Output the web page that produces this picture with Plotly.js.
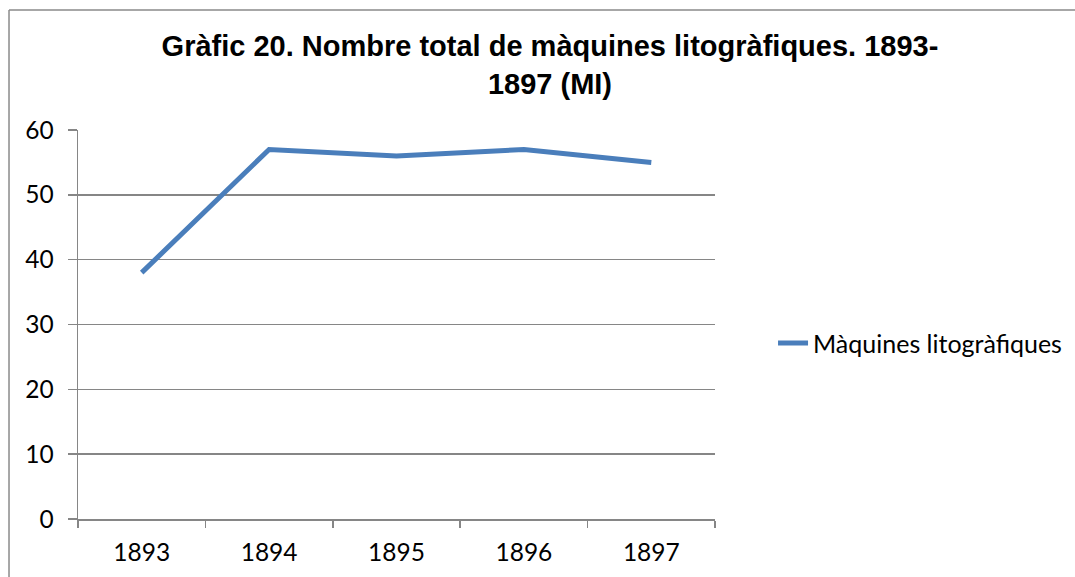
<!DOCTYPE html>
<html>
<head>
<meta charset="utf-8">
<script src="https://cdn.plot.ly/plotly-3.0.1.min.js"></script>
<style>
html,body{margin:0;padding:0;background:#fff;}
#chart{width:1075px;height:577px;}
</style>
</head>
<body>
<div id="chart"></div>
<script>
const years = ['1893', '1894', '1895', '1896', '1897'];
const maquines = [38, 57, 56, 57, 55];
const seriesName = 'Màquines litogràfiques';
const titleText = 'Gràfic 20. Nombre total de màquines litogràfiques. 1893-<br>1897 (MI)';

const gray = '#868686';
const tickFont = {family: 'Lato, sans-serif', size: 24.5, color: '#000'};
const legendFont = {family: 'Lato, sans-serif', size: 25, color: '#000'};

const trace = {
  type: 'scatter',
  mode: 'lines',
  x: years,
  y: maquines,
  name: seriesName,
  line: {color: '#4a7ebb', width: 5},
  showlegend: true
};

const layout = {
  width: 1075,
  height: 577,
  margin: {l: 78, r: 360, t: 130, b: 58},
  paper_bgcolor: '#fff',
  plot_bgcolor: '#fff',
  title: {
    text: titleText,
    font: {family: '"Liberation Sans", Arial, sans-serif', size: 29, color: '#000', weight: 'bold'},
    xref: 'container', x: 0.5116, xanchor: 'center',
    yref: 'container', y: 0.903, yanchor: 'top'
  },
  xaxis: {
    type: 'category',
    range: [-0.5, 4.5],
    tickson: 'boundaries',
    ticks: 'outside', ticklen: 7, tickcolor: gray, tickwidth: 1.5,
    showline: true, linecolor: gray, linewidth: 1.5,
    showgrid: false, zeroline: false,
    tickfont: tickFont,
    ticklabelstandoff: 11,
    fixedrange: true
  },
  yaxis: {
    range: [0, 60],
    dtick: 10,
    ticks: 'outside', ticklen: 9, tickcolor: gray, tickwidth: 1.5,
    showline: true, linecolor: gray, linewidth: 1.5,
    showgrid: true, gridcolor: gray, gridwidth: 1.5,
    zeroline: false,
    tickfont: tickFont,
    ticklabelstandoff: 9,
    fixedrange: true
  },
  legend: {
    xref: 'container', yref: 'container',
    x: 0.7191, xanchor: 'left',
    y: 0.405, yanchor: 'middle',
    font: legendFont,
    bgcolor: 'rgba(0,0,0,0)'
  },
  shapes: [
    {type: 'line', xref: 'paper', yref: 'paper', x0: -0.1083, x1: -0.1083, y0: 1.3085, y1: -0.2,
     line: {color: '#8a8a8a', width: 1.5}},
    {type: 'line', xref: 'paper', yref: 'paper', x0: -0.1083, x1: 1.6, y0: 1.3085, y1: 1.3085,
     line: {color: '#8a8a8a', width: 1.5}}
  ]
};

Plotly.newPlot('chart', [trace], layout, {displayModeBar: false, staticPlot: true});
</script>
</body>
</html>
